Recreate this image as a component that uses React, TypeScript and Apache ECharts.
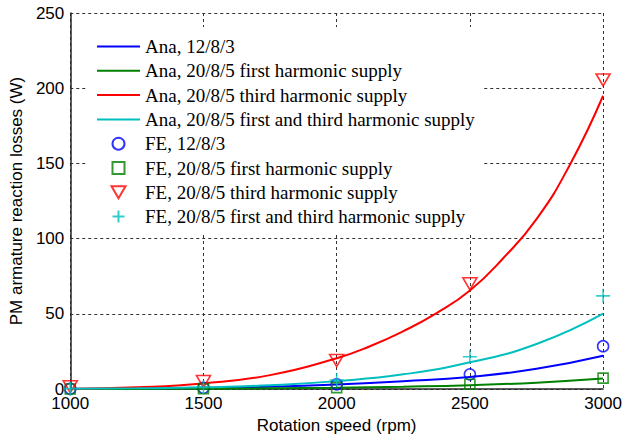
import React, { useEffect, useRef } from "react";
import * as echarts from "echarts";

const rpmAna = [1000, 1250, 1500, 1750, 2000, 2250, 2500, 2750, 3000];
const anaBlue = [0.1, 0.3, 0.7, 1.5, 3, 5.2, 8.1, 13.5, 22.2];
const anaGreen = [0.05, 0.1, 0.25, 0.5, 0.9, 1.6, 2.6, 4.3, 7];
const anaCyan = [0.15, 0.5, 1.2, 2.6, 5.3, 9.8, 17.8, 30, 50.2];
const rpmRed = [1000, 1250, 1500, 1750, 2000, 2125, 2250, 2375, 2500, 2625, 2750, 2875, 3000];
const anaRed = [0.3, 1.2, 3.8, 9.3, 20.5, 28.5, 38.5, 50.5, 65.5, 87, 113, 149, 195];

const rpmFE = [1000, 1500, 2000, 2500, 3000];
const feBlue = [0.2, 0.8, 3.2, 9.8, 28.5];
const feGreen = [0.1, 0.3, 1.0, 3.2, 7.3];
const feRed = [1.5, 5, 19, 70, 205.5];
const feCyan = [0.3, 1.3, 6, 21.5, 62];

const names = [
  "Ana, 12/8/3",
  "Ana, 20/8/5 first harmonic supply",
  "Ana, 20/8/5 third harmonic supply",
  "Ana, 20/8/5 first and third harmonic supply",
  "FE, 12/8/3",
  "FE, 20/8/5 first harmonic supply",
  "FE, 20/8/5 third harmonic supply",
  "FE, 20/8/5 first and third harmonic supply",
];

const BLUE = "#0000ff";
const GREEN = "#008000";
const RED = "#ff0000";
const CYAN = "#00bfbf";

const LINE_ICON = "path://M0,0L43,0L43,2L0,2Z";
const CIRCLE_ICON = "circle";
const SQUARE_ICON = "path://M0,0L10,0L10,10L0,10Z";
const TRI_ICON = "path://M0,0L14,0L7,12Z";
const PLUS_ICON = "path://M7,0L7,14M0,7L14,7";

const pairs = (xs: number[], ys: number[]) => xs.map((x, i) => [x, ys[i]]);

export default function App() {
  const ref = useRef<HTMLDivElement>(null);
  useEffect(() => {
    if (!ref.current) return;
    const chart = echarts.init(ref.current, undefined, { renderer: "svg" });
    const lineSeries = (name: string, xs: number[], ys: number[], color: string) => ({
      name,
      type: "line",
      data: pairs(xs, ys),
      smooth: 0.5,
      symbol: "none",
      showSymbol: false,
      clip: false,
      lineStyle: { color, width: 2 },
      itemStyle: { color },
      z: 2,
    });
    const scatterSeries = (name: string, ys: number[], color: string, symbol: string, size: any) => ({
      name,
      type: "scatter",
      data: pairs(rpmFE, ys),
      symbol,
      symbolSize: size,
      clip: false,
      itemStyle: { color: "rgba(0,0,0,0)", borderColor: color, borderWidth: 1.6 },
      z: 3,
    });
    const icons = [LINE_ICON, LINE_ICON, LINE_ICON, LINE_ICON, CIRCLE_ICON, SQUARE_ICON, TRI_ICON, PLUS_ICON];
    chart.setOption({
      animation: false,
      grid: { left: 70, right: 19, top: 13, bottom: 46 },
      legend: {
        orient: "vertical",
        left: 88,
        top: 27,
        padding: [10, 8, 6, 9],
        backgroundColor: "#ffffff",
        itemWidth: 43,
        itemHeight: 12,
        itemGap: 5.3,
        selectedMode: false,
        textStyle: { fontFamily: "Liberation Serif", fontSize: 19, color: "#000", lineHeight: 19 },
        data: names.map((n, i) => ({ name: n, icon: icons[i] })),
      },
      xAxis: {
        type: "value",
        min: 1000,
        max: 3000,
        interval: 500,
        name: "Rotation speed (rpm)",
        nameLocation: "middle",
        nameGap: 25,
        nameTextStyle: { fontFamily: "Liberation Sans", fontSize: 17, color: "#000" },
        axisLine: { show: true, onZero: false, lineStyle: { color: "#262626", width: 1.5 } },
        axisTick: { show: false },
        axisLabel: {
          fontFamily: "Liberation Sans",
          fontSize: 17,
          color: "#000",
          margin: 6,
          formatter: (v: number) => String(v),
        },
        splitLine: { show: true, lineStyle: { color: "#333", type: [3, 3], width: 1 } },
      },
      yAxis: {
        type: "value",
        min: 0,
        max: 250,
        interval: 50,
        name: "PM armature reaction losses (W)",
        nameLocation: "middle",
        nameGap: 45,
        nameTextStyle: { fontFamily: "Liberation Sans", fontSize: 17, color: "#000" },
        axisLine: { show: true, lineStyle: { color: "#262626", width: 1.5 } },
        axisTick: { show: false },
        axisLabel: {
          fontFamily: "Liberation Sans",
          fontSize: 17,
          color: "#000",
          margin: 6,
          formatter: (v: number) => String(v),
        },
        splitLine: { show: true, lineStyle: { color: "#333", type: [3, 3], width: 1 } },
      },
      series: [
        lineSeries(names[0], rpmAna, anaBlue, BLUE),
        lineSeries(names[1], rpmAna, anaGreen, GREEN),
        lineSeries(names[2], rpmRed, anaRed, RED),
        lineSeries(names[3], rpmAna, anaCyan, CYAN),
        scatterSeries(names[4], feBlue, BLUE, "circle", 11),
        scatterSeries(names[5], feGreen, GREEN, "rect", 10),
        scatterSeries(names[6], feRed, RED, TRI_ICON, [14, 12]),
        scatterSeries(names[7], feCyan, CYAN, PLUS_ICON, 14),
      ],
    });
    return () => chart.dispose();
  }, []);
  return (
    <div
      ref={ref}
      style={{ position: "fixed", left: 0, top: 0, width: 625, height: 439, background: "#fff" }}
    />
  );
}
